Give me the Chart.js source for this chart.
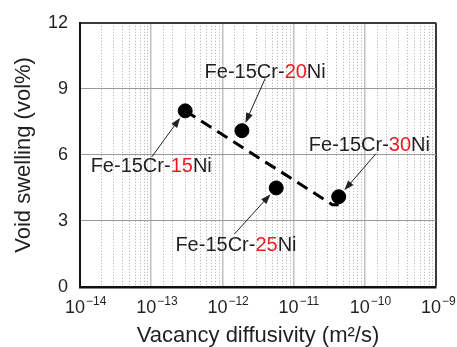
<!DOCTYPE html>
<html>
<head>
<meta charset="utf-8">
<script src="https://cdn.jsdelivr.net/npm/chart.js@4.4.0/dist/chart.umd.min.js"></script>
<style>
  html, body { margin: 0; padding: 0; background: #fff; }
</style>
</head>
<body>
<canvas id="chart" width="457" height="347"></canvas>
<script>
// measured points: vacancy diffusivity (m2/s) vs void swelling (vol%)
const diffusivity = [3.0e-13, 1.88e-12, 5.7e-12, 4.3e-11];
const swelling = [8.0, 7.1, 4.5, 4.1];
const niContent = ['15', '20', '25', '30'];

// dashed trend line
const trendX = [3.0e-13, 3.5e-11, 4.3e-11];
const trendY = [8.0, 3.74, 3.74];

// axis ticks
const xTickExponents = [-14, -13, -12, -11, -10, -9];
const yTicks = [0, 3, 6, 9, 12];

// label centres and arrow tails, in data units (same order as the points)
const labelX = [1.0e-13, 3.99e-12, 1.55e-12, 1.16e-10];
const labelY = [5.56, 9.84, 1.94, 6.49];
const tailX = [1.02e-13, 3.99e-12, 1.47e-12, 1.44e-10];
const tailY = [5.91, 9.47, 2.4, 6.06];

const FONT = '"Liberation Sans", Arial, Helvetica, sans-serif';
const INK = '#231f20';
const RED = '#ed1c24';

const isDecade = (v) => Math.abs(Math.log10(v) - Math.round(Math.log10(v))) < 1e-6;
const isEdge = (v) => Math.abs(Math.log10(v) - xTickExponents[xTickExponents.length - 1]) < 1e-6;

//arrows, labels and x tick labels with superscripts
const decorPlugin = {
  id: 'decor',
  afterDatasetsDraw(chart) {
    const ctx = chart.ctx;
    const xs = chart.scales.x;
    const ys = chart.scales.y;
    ctx.save();

    ctx.strokeStyle = INK;
    ctx.fillStyle = INK;
    ctx.lineWidth = 1;
    for (let i = 0; i < diffusivity.length; i++) {
      const x0 = xs.getPixelForValue(tailX[i]);
      const y0 = ys.getPixelForValue(tailY[i]);
      const px = xs.getPixelForValue(diffusivity[i]);
      const py = ys.getPixelForValue(swelling[i]);
      const ang = Math.atan2(py - y0, px - x0);
      const c = Math.cos(ang), s = Math.sin(ang);
      const len = Math.hypot(px - x0, py - y0) - 8.5;
      const hx = x0 + c * len, hy = y0 + s * len;
      const headLen = 10, headW = 3.5;
      const bx = hx - c * headLen, by = hy - s * headLen;
      ctx.beginPath();
      ctx.moveTo(x0, y0);
      ctx.lineTo(bx + c * 2, by + s * 2);
      ctx.stroke();
      ctx.beginPath();
      ctx.moveTo(hx, hy);
      ctx.lineTo(bx + s * headW, by - c * headW);
      ctx.lineTo(bx - s * headW, by + c * headW);
      ctx.closePath();
      ctx.fill();
    }

    ctx.font = '20px ' + FONT;
    ctx.textBaseline = 'alphabetic';
    ctx.textAlign = 'left';
    for (let i = 0; i < niContent.length; i++) {
      const parts = [['Fe-15Cr-', INK], [niContent[i], RED], ['Ni', INK]];
      const total = parts.reduce((w, p) => w + ctx.measureText(p[0]).width, 0);
      let x = xs.getPixelForValue(labelX[i]) - total / 2;
      const y = ys.getPixelForValue(labelY[i]) + 7.2;
      parts.forEach(([t, col]) => {
        ctx.fillStyle = col;
        ctx.fillText(t, x, y);
        x += ctx.measureText(t).width;
      });
    }
    ctx.restore();
  },
  afterDraw(chart) {
    const ctx = chart.ctx;
    const xs = chart.scales.x;
    ctx.save();
    ctx.fillStyle = INK;
    ctx.textBaseline = 'alphabetic';
    ctx.textAlign = 'left';
    xTickExponents.forEach((e) => {
      const tx = xs.getPixelForValue(Math.pow(10, e));
      ctx.font = '18px ' + FONT;
      ctx.fillText('10', tx - 15, xs.top + 26);
      const w = ctx.measureText('10').width;
      ctx.font = '12px ' + FONT;
      ctx.fillText('\u2212' + Math.abs(e), tx - 15 + w + 1, xs.top + 18);
    });
    ctx.restore();
  },
};

new Chart(document.getElementById('chart'), {
  type: 'scatter',
  data: {
    datasets: [
      {
        data: diffusivity.map((x, i) => ({ x: x, y: swelling[i] })),
        backgroundColor: '#000',
        borderColor: '#000',
        pointRadius: 7,
        order: 1,
      },
      {
        type: 'line',
        data: trendX.map((x, i) => ({ x: x, y: trendY[i] })),
        borderColor: '#000',
        borderWidth: 3,
        borderDash: [12, 7],
        pointRadius: 0,
        fill: false,
        tension: 0,
        order: 2,
      },
    ],
  },
  options: {
    responsive: false,
    animation: false,
    devicePixelRatio: 1,
    layout: { padding: { top: 17, right: 21, left: 0, bottom: 0 } },
    plugins: { legend: { display: false }, tooltip: { enabled: false } },
    scales: {
      x: {
        type: 'logarithmic',
        min: Math.pow(10, xTickExponents[0]),
        max: Math.pow(10, xTickExponents[xTickExponents.length - 1]),
        afterFit: (s) => { s.height = 60; },
        ticks: { display: false, autoSkip: false },
        grid: {
          drawTicks: false,
          color: (c) => {
            if (!c.tick) return '#999';
            if (isEdge(c.tick.value)) return '#3a3a3a';
            return isDecade(c.tick.value) ? '#c2c2c2' : '#ababab';
          },
          lineWidth: (c) => {
            if (!c.tick) return 1;
            if (isEdge(c.tick.value)) return 2;
            return isDecade(c.tick.value) ? 1.5 : 1;
          },
        },
        border: {
          color: '#111',
          width: 2.5,
          dash: (c) => (c.tick && !isDecade(c.tick.value) ? [1, 2] : []),
        },
        title: {
          display: true,
          text: 'Vacancy diffusivity (m\u00b2/s)',
          color: INK,
          font: { family: FONT, size: 22, lineHeight: 1 },
          padding: { top: 0, bottom: 0 },
        },
      },
      y: {
        min: yTicks[0],
        max: yTicks[yTicks.length - 1],
        afterFit: (s) => { s.width = 80; },
        afterBuildTicks: (s) => { s.ticks = yTicks.map((v) => ({ value: v })); },
        ticks: {
          color: INK,
          padding: 12,
          font: { family: FONT, size: 18 },
        },
        grid: {
          drawTicks: false,
          color: (c) => (c.tick && c.tick.value === yTicks[yTicks.length - 1] ? '#3a3a3a' : '#9a9a9a'),
          lineWidth: (c) => (c.tick && c.tick.value === yTicks[yTicks.length - 1] ? 2 : 1),
        },
        border: { color: '#111', width: 2 },
        title: {
          display: true,
          text: 'Void swelling (vol%)',
          color: INK,
          font: { family: FONT, size: 22, lineHeight: 1.2 },
          padding: { top: 11, bottom: 0 },
        },
      },
    },
  },
  plugins: [decorPlugin],
});
</script>
</body>
</html>
